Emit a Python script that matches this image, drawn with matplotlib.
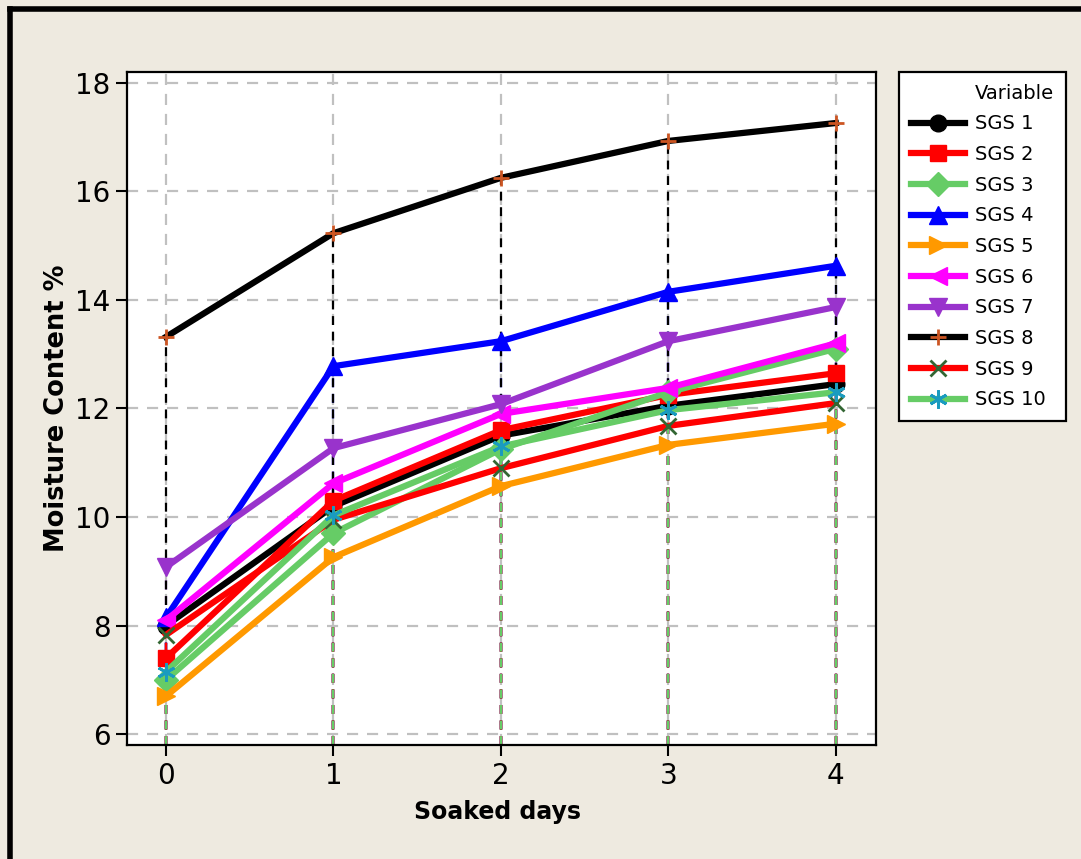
import matplotlib.pyplot as plt
from matplotlib.lines import Line2D

# ---------------- Data ---------------- #

days = [0, 1, 2, 3, 4]

sgs1 = [8.00, 10.20, 11.50, 12.05, 12.45]
sgs2 = [7.40, 10.30, 11.60, 12.25, 12.65]
sgs3 = [7.00, 9.70, 11.25, 12.30, 13.10]
sgs4 = [8.15, 12.78, 13.24, 14.15, 14.63]
sgs5 = [6.70, 9.26, 10.57, 11.33, 11.72]
sgs6 = [8.10, 10.62, 11.90, 12.38, 13.20]
sgs7 = [9.08, 11.27, 12.08, 13.24, 13.87]
sgs8 = [13.32, 15.23, 16.25, 16.93, 17.26]
sgs9 = [7.83, 9.95, 10.90, 11.68, 12.10]
sgs10 = [7.15, 10.03, 11.30, 11.97, 12.30]

names = ["SGS 1", "SGS 2", "SGS 3", "SGS 4", "SGS 5",
         "SGS 6", "SGS 7", "SGS 8", "SGS 9", "SGS 10"]
series = [sgs1, sgs2, sgs3, sgs4, sgs5, sgs6, sgs7, sgs8, sgs9, sgs10]

# ---------------- Styles ---------------- #

line_colors = ["black", "#FF0000", "#66CC66", "#0000FF", "#FF9900",
               "#FF00FF", "#9933CC", "black", "#FF0000", "#66CC66"]
marker_colors = ["black", "#FF0000", "#66CC66", "#0000FF", "#FF9900",
                 "#FF00FF", "#9933CC", "#CC5522", "#336633", "#1A9BBF"]
markers = ["o", "s", "D", "^", ">", "<", "v", "+", "x", (6, 2, 0)]
marker_sizes = [12, 12, 12, 13, 13, 13, 13, 12, 11, 13]

bg = "#EEEAE0"

fig = plt.figure(figsize=(10.81, 8.59), dpi=100, facecolor=bg)
ax = fig.add_axes([127 / 1081, 1 - 745 / 859, (876 - 127) / 1081, (745 - 72) / 859])
ax.set_facecolor("white")

ax.set_xlim(-0.233, 4.24)
ax.set_ylim(5.8, 18.2)

# projection lines
for vals, col in zip(series, line_colors):
    for d, v in zip(days, vals):
        ax.plot([d, d], [5.8, v], color=col, lw=1.6, ls=(0, (4, 3)), zorder=2)

for vals, name, lc, mc, mk, ms in zip(series, names, line_colors,
                                      marker_colors, markers, marker_sizes):
    thin = mk in ("+", "x", (6, 2, 0))
    ax.plot(days, vals, color=lc, lw=4.5, zorder=3,
            marker=mk, markersize=ms, markerfacecolor=mc,
            markeredgecolor=mc, markeredgewidth=2 if thin else 1,
            label=name)

ax.set_xticks(days)
ax.set_yticks([6, 8, 10, 12, 14, 16, 18])
ax.grid(True, color="#C0C0C0", ls=(0, (5, 4)), lw=1.6, zorder=1)
ax.tick_params(direction="out", length=8, width=1.5, colors="black", pad=4,
               labelsize=20)
for s in ax.spines.values():
    s.set_linewidth(1.6)

fig.text(497 / 1081, 1 - 812 / 859, "Soaked days", ha="center", va="center",
         fontsize=17, fontweight="bold")
fig.text(57 / 1081, 1 - 408 / 859, "Moisture Content %", ha="center",
         va="center", rotation=90, fontsize=18.5, fontweight="bold")

# ---------------- Legend ---------------- #

handles, labels = ax.get_legend_handles_labels()
blank = Line2D([], [], color="none")
leg = fig.legend([blank] + handles, ["Variable"] + labels,
                 loc="upper left", bbox_to_anchor=(899 / 1081, 1 - 72 / 859),
                 borderaxespad=0, fancybox=False, framealpha=1,
                 edgecolor="black", handlelength=2.8,
                 labelspacing=0.6, borderpad=0.6, handletextpad=0.5,
                 prop={"size": 14})
leg.get_frame().set_linewidth(1.6)

# outer frame
fig.add_artist(Line2D([0.009, 1.0], [1 - 9 / 859, 1 - 9 / 859],
                      transform=fig.transFigure, color="black", lw=4))
fig.add_artist(Line2D([0.009, 0.009], [0, 1 - 9 / 859],
                      transform=fig.transFigure, color="black", lw=4))

fig.savefig("out.png", dpi=100, facecolor=bg)
